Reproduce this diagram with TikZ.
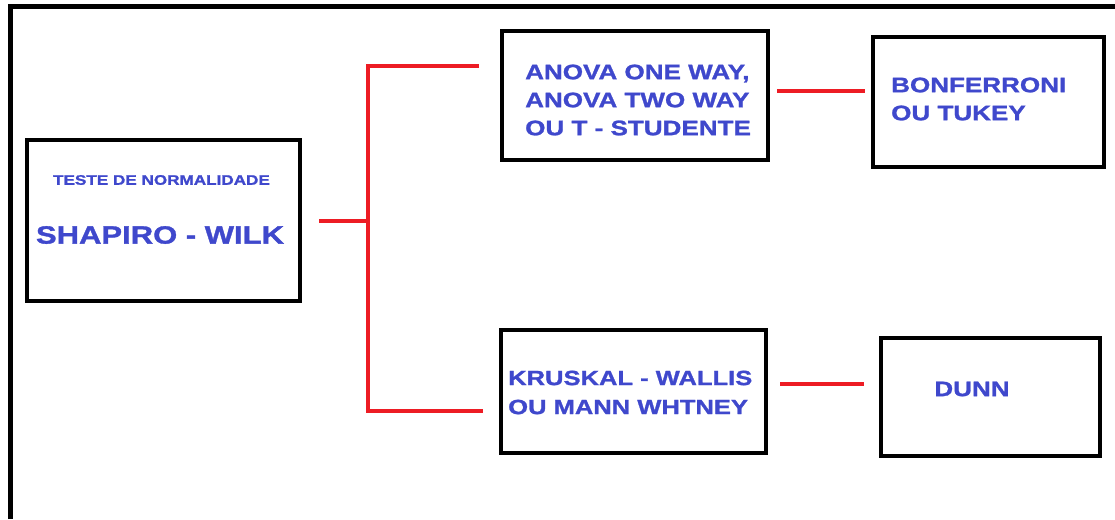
\documentclass[tikz,border=0pt]{standalone}
\usepackage{fontspec}
\newfontfamily\labfont[FakeStretch=1.24,BoldFeatures={FakeBold=1.3}]{Liberation Sans}
\definecolor{txtblue}{HTML}{3F48CC}
\definecolor{connred}{HTML}{ED1C24}
\begin{document}
\begin{tikzpicture}[x=1pt,y=-1pt,
  box/.style={draw=black, line width=4.5pt, inner sep=0pt, rectangle},
  lbl/.style={text=txtblue, inner sep=0pt, align=left,
    font=\labfont\bfseries\fontsize{21}{28}\selectfont},
  conn/.style={draw=connred, line width=4pt}]
\useasboundingbox (0,0) rectangle (1115,519);
% outer frame (top and left edges visible)
\draw[line width=5pt] (10.5,519) -- (10.5,7) -- (1115,7);
% boxes
\node[box, minimum width=273pt, minimum height=161pt] (b1) at (163.5,220.5) {};
\node[box, minimum width=266pt, minimum height=129pt] (b2) at (635,95.5) {};
\node[box, minimum width=231pt, minimum height=130pt] (b3) at (988.5,102) {};
\node[box, minimum width=265pt, minimum height=123pt] (b4) at (633.5,391.5) {};
\node[box, minimum width=219pt, minimum height=118pt] (b5) at (990.5,397) {};
% texts
\node[lbl, font=\labfont\bfseries\fontsize{13.8}{16}\selectfont] (t1a) at (161.5,180) {TESTE DE NORMALIDADE};
\node[lbl, font=\labfont\bfseries\fontsize{25}{30}\selectfont] (t1b) at (160,235) {SHAPIRO - WILK};
\node[lbl, anchor=west] (t2) at (525,100) {ANOVA ONE WAY,\\ANOVA TWO WAY\\OU T - STUDENTE};
\node[lbl, anchor=west] (t3) at (891,99) {BONFERRONI\\OU TUKEY};
\node[lbl, anchor=west, font=\labfont\bfseries\fontsize{20.6}{29}\selectfont] (t4) at (508,392.5) {KRUSKAL - WALLIS\\OU MANN WHTNEY};
\node[lbl] (t5) at (972,389) {DUNN};
% connectors
\coordinate (j) at (368,220.5);
\coordinate (j1) at (368,66);
\coordinate (j2) at (368,411);
\coordinate (e1) at (479,66);
\coordinate (e2) at (483,411);
\draw[conn] ([xshift=17pt]b1.east) -- (j);
\draw[conn] (e1) -- (j1) -- (j2) -- (e2);
\draw[conn] ([xshift=7pt,yshift=4.5pt]b2.east) -- ([xshift=-6pt,yshift=11pt]b3.west);
\draw[conn] ([xshift=12pt,yshift=7.5pt]b4.east) -- ([xshift=-15pt,yshift=13pt]b5.west);
\end{tikzpicture}
\end{document}
